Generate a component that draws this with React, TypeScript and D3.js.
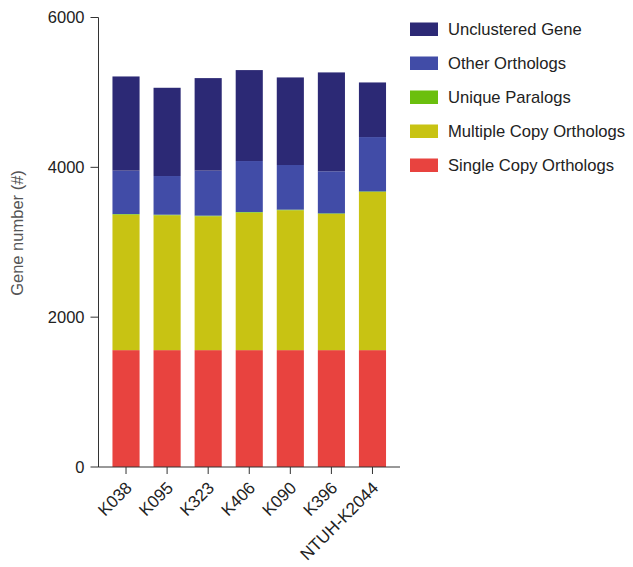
import React from "react";
import * as d3 from "d3";

const strains = ["K038", "K095", "K323", "K406", "K090", "K396", "NTUH-K2044"];
const singleCopy = [1560, 1560, 1560, 1560, 1560, 1560, 1560];
const multipleCopy = [1809, 1800, 1787, 1836, 1867, 1818, 2111];
const uniqueParalogs = [8, 8, 8, 8, 8, 8, 8];
const otherOrthologs = [579, 516, 601, 680, 596, 561, 725];
const unclustered = [1257, 1178, 1235, 1214, 1169, 1320, 729];
const yTicks = [0, 2000, 4000, 6000];

const seriesNames = [
  "Single Copy Orthologs",
  "Multiple Copy Orthologs",
  "Unique Paralogs",
  "Other Orthologs",
  "Unclustered Gene",
];
const seriesValues = [singleCopy, multipleCopy, uniqueParalogs, otherOrthologs, unclustered];
const colors = ["#e8433f", "#c8c313", "#6bbf0e", "#414ca7", "#2c2975"];

export default function App() {
  const W = 633, H = 567;
  const x0 = 98.5, x1 = 400, y0 = 467, y1 = 17.5;
  const x = d3.scaleBand<string>().domain(strains).range([x0, x1]).padding(0.34);
  const y = d3.scaleLinear().domain([0, 6000]).range([y0, y1]);

  const rows = strains.map((s, i) => {
    const r: any = { strain: s };
    seriesNames.forEach((n, k) => (r[n] = seriesValues[k][i]));
    return r;
  });
  const stacked = d3.stack<any>().keys(seriesNames)(rows);

  const font = "'Liberation Sans', Arial, Helvetica, sans-serif";
  const legendOrder = [4, 3, 2, 1, 0];

  return (
    <svg width={W} height={H} style={{ position: "absolute", left: 0, top: 0 }} fontFamily={font}>
      <rect width={W} height={H} fill="#fff" />
      {stacked.map((layer, k) => (
        <g key={k} fill={colors[k]}>
          {layer.map((d, i) => (
            <rect
              key={i}
              x={x(strains[i])!}
              width={x.bandwidth()}
              y={y(d[1])}
              height={Math.max(0, y(d[0]) - y(d[1]))}
            />
          ))}
        </g>
      ))}
      {/* y axis */}
      <line x1={x0} x2={x0} y1={y1} y2={y0} stroke="#333" strokeWidth={1} />
      {yTicks.map((t) => (
        <g key={t}>
          <line x1={x0 - 8} x2={x0} y1={y(t)} y2={y(t)} stroke="#333" />
          <text x={x0 - 14} y={y(t)} dy="0.35em" textAnchor="end" fontSize={16.5} fill="#222">
            {t}
          </text>
        </g>
      ))}
      <text
        transform={`translate(23,233) rotate(-90)`}
        textAnchor="middle"
        fontSize={16.5}
        fill="#555"
      >
        Gene number (#)
      </text>
      {/* x axis */}
      <line x1={x0} x2={x1} y1={y0} y2={y0} stroke="#333" />
      {strains.map((s) => {
        const cx = x(s)! + x.bandwidth() / 2;
        return (
          <g key={s}>
            <line x1={cx} x2={cx} y1={y0} y2={y0 + 7} stroke="#333" />
            <text
              transform={`translate(${cx + 7},${y0 + 22}) rotate(-45)`}
              textAnchor="end"
              fontSize={17}
              fill="#222"
            >
              {s}
            </text>
          </g>
        );
      })}
      {/* legend */}
      {legendOrder.map((k, j) => (
        <g key={k} transform={`translate(410,${22.5 + j * 34})`}>
          <rect width={28} height={13.5} fill={colors[k]} />
          <text x={38} y={7} dy="0.35em" fontSize={16.6} fill="#222">
            {seriesNames[k]}
          </text>
        </g>
      ))}
    </svg>
  );
}
